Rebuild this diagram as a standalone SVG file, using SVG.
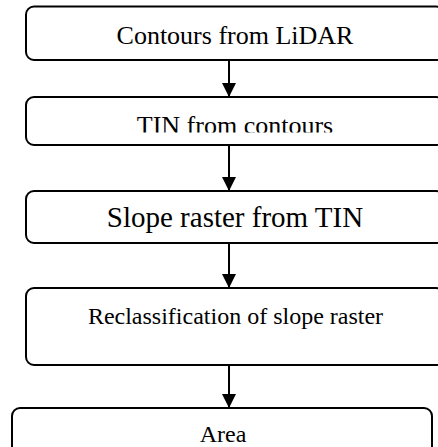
<svg xmlns="http://www.w3.org/2000/svg" width="438" height="447" viewBox="0 0 438 447">
<style>
.box{fill:#fff;stroke:#000;stroke-width:2}
.t{font-family:"Liberation Serif","Times New Roman",serif;fill:#000;text-anchor:middle}
.c{stroke:#000;stroke-width:2;fill:none}
</style>
<defs>
<marker id="ah" viewBox="0 0 14 14" refX="14" refY="7" markerWidth="14" markerHeight="14" markerUnits="userSpaceOnUse" orient="auto">
<path d="M0,0 L14,7 L0,14 Z" fill="#000"/>
</marker>
<clipPath id="cl2"><rect x="0" y="98" width="438" height="34.5"/></clipPath>
<clipPath id="cl3"><rect x="0" y="192" width="438" height="41"/></clipPath>
</defs>
<rect width="438" height="447" fill="#fff"/>
<g id="connectors">
<line class="c" x1="229" y1="60" x2="229" y2="97" marker-end="url(#ah)"/>
<line class="c" x1="229" y1="145" x2="229" y2="191" marker-end="url(#ah)"/>
<line class="c" x1="229" y1="243" x2="229" y2="288" marker-end="url(#ah)"/>
<line class="c" x1="229" y1="365" x2="229" y2="408" marker-end="url(#ah)"/>
</g>
<g id="n1">
<rect class="box" x="26" y="6.5" width="418" height="53.5" rx="8"/>
<text class="t" x="235" y="43.5" font-size="26">Contours from LiDAR</text>
</g>
<g id="n2">
<rect class="box" x="26" y="97" width="418" height="48" rx="8"/>
<text class="t" x="235" y="134" font-size="26" clip-path="url(#cl2)">TIN from contours</text>
</g>
<g id="n3">
<rect class="box" x="26" y="191" width="418" height="52" rx="8"/>
<text class="t" x="235" y="227" font-size="29" clip-path="url(#cl3)">Slope raster from TIN</text>
</g>
<g id="n4">
<rect class="box" x="26" y="288" width="418" height="77" rx="8"/>
<text class="t" x="235.5" y="324" font-size="24">Reclassification of slope raster</text>
</g>
<g id="n5">
<rect class="box" x="12" y="408" width="420" height="60" rx="8"/>
<text class="t" x="223" y="442" font-size="24">Area</text>
</g>
</svg>
